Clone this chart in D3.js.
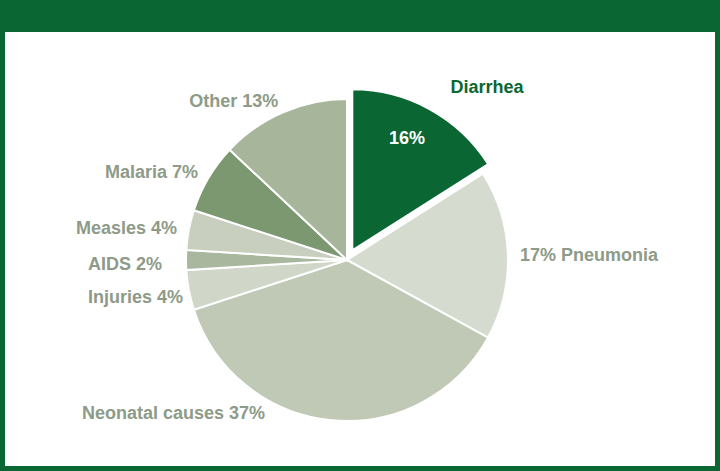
<!DOCTYPE html>
<html><head><meta charset="utf-8">
<script src="https://cdn.jsdelivr.net/npm/d3@7"></script>
<style>body{margin:0;background:#fff}text{font-family:"Liberation Sans",Arial,sans-serif;font-weight:bold;font-size:18px}</style>
</head><body><div id="chart"></div>
<script>
const causes = ['Diarrhea', 'Pneumonia', 'Neonatal causes', 'Injuries', 'AIDS', 'Measles', 'Malaria', 'Other']
const shares = [16, 17, 37, 4, 2, 4, 7, 13]
const colors = ['#0a6633', '#d6dbcf', '#bfc9b5', '#d0d6c8', '#a9b79e', '#c8cfbf', '#7b9870', '#a7b59b']

const width = 720
const height = 471
const cx = 347
const cy = 260
const radius = 161
const textColor = '#8d9b88'

const svg = d3.select('#chart').append('svg').attr('width', width).attr('height', height)

// frame
svg.append('rect').attr('width', width).attr('height', height).attr('fill', '#0a6633')
svg.append('rect').attr('x', 5).attr('y', 32).attr('width', width - 10).attr('height', height - 37).attr('fill', '#fff')

const datapoints = causes.map((c, i) => ({ cause: c, value: shares[i], color: colors[i] }))
const pie = d3.pie().value(d => d.value).sort(null)
const arc = d3.arc().innerRadius(0).outerRadius(radius)
const arcs = pie(datapoints)

const g = svg.append('g').attr('transform', 'translate(' + cx + ',' + cy + ')')

g.selectAll('path')
  .data(arcs)
  .enter()
  .append('path')
  .attr('d', arc)
  .attr('fill', d => d.data.color)
  .attr('stroke', '#fff')
  .attr('stroke-width', 2)
  .attr('transform', function(d) {
    if (d.index !== 0) return null
    const mid = (d.startAngle + d.endAngle) / 2
    return 'translate(' + 11 * Math.sin(mid) + ',' + -11 * Math.cos(mid) + ')'
  })

// labels
arcs.forEach(function(d) {
  const mid = (d.startAngle + d.endAngle) / 2
  const r = radius + 12
  let x = r * Math.sin(mid)
  let y = -r * Math.cos(mid) + 6
  let anchor = x < 0 ? 'end' : 'start'
  let txt = d.data.cause + ' ' + d.data.value + '%'
  if (d.index === 0) {
    g.append('text').attr('x', 140).attr('y', -167).attr('text-anchor', 'middle')
      .attr('fill', '#0a6633').text(d.data.cause)
    g.append('text').attr('x', 60).attr('y', -116).attr('text-anchor', 'middle')
      .attr('fill', '#fff').text(d.data.value + '%')
    return
  }
  if (d.data.cause === 'Pneumonia') txt = d.data.value + '% ' + d.data.cause
  if (d.data.cause === 'Neonatal causes') { x = -82; y = radius - 2; anchor = 'end' }
  if (d.data.cause === 'AIDS') { x -= 12; y += 4 }
  if (d.data.cause === 'Injuries') { x += 6; y += 5 }
  g.append('text').attr('x', x).attr('y', y).attr('text-anchor', anchor)
    .attr('fill', textColor).text(txt)
})
</script></body></html>
